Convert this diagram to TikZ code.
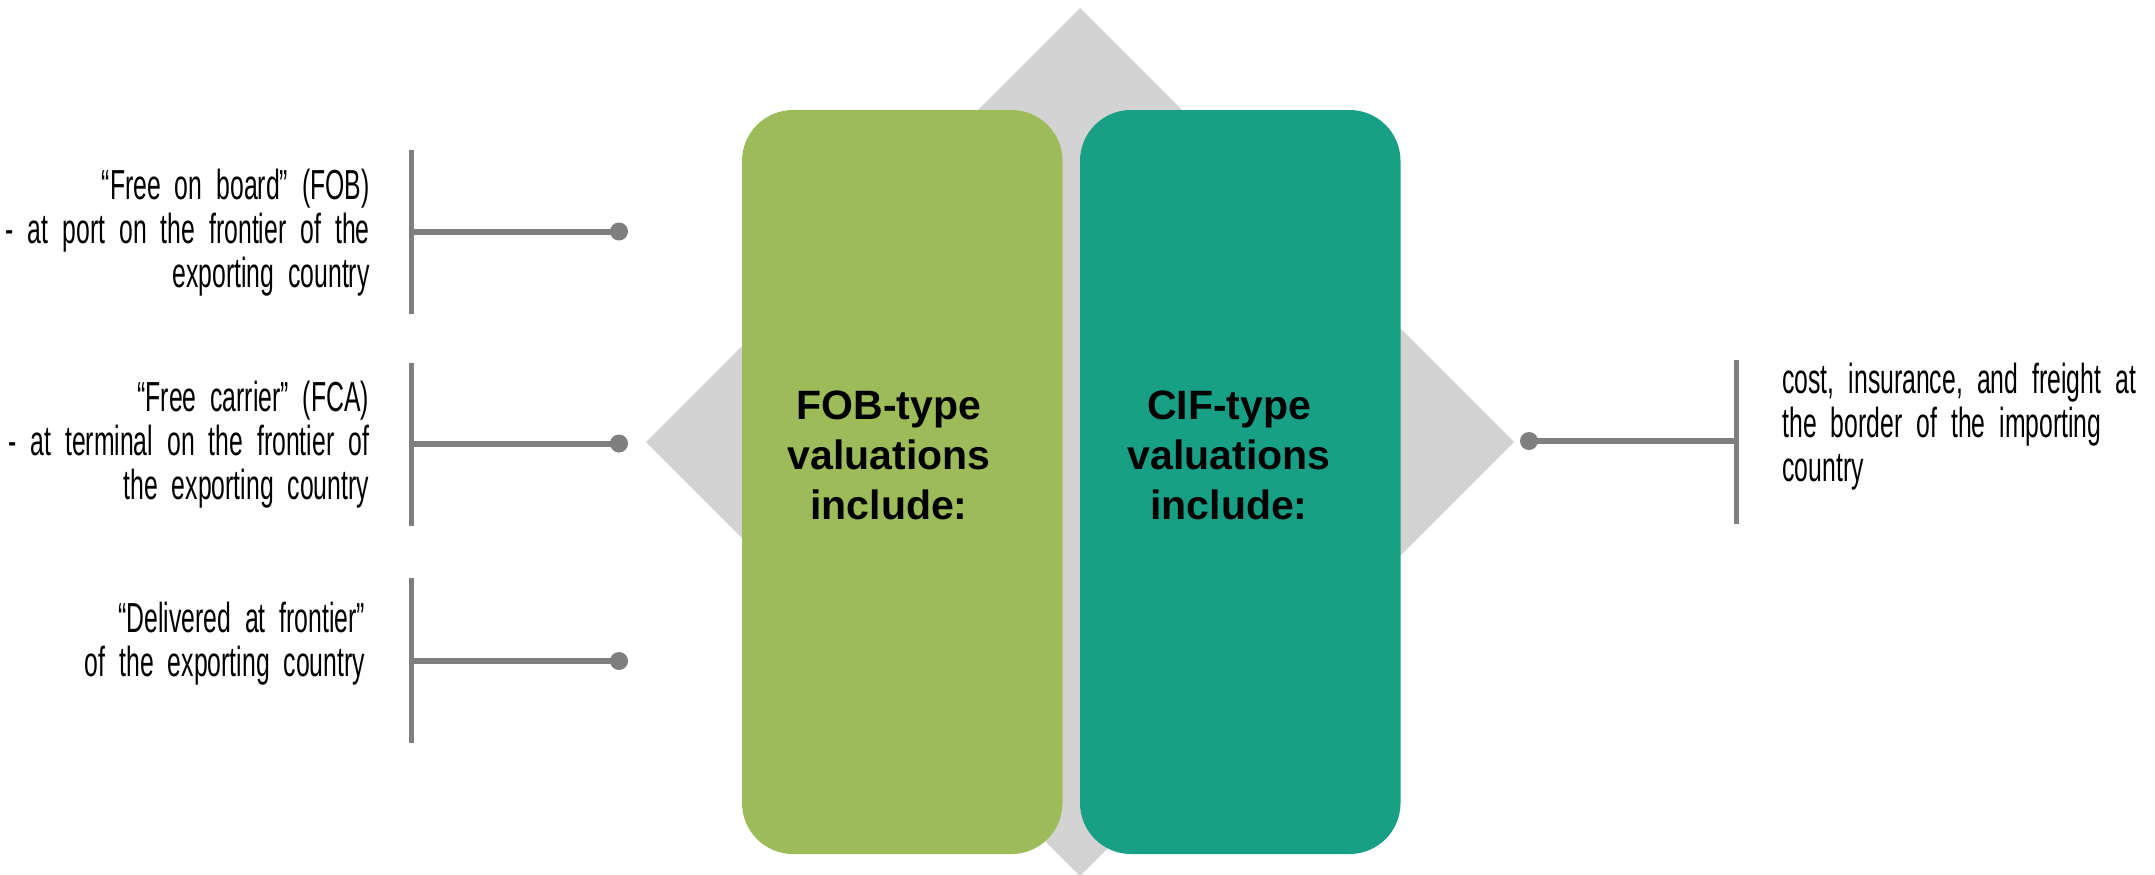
\documentclass[tikz,border=0pt]{standalone}
\usepackage{fontspec}
\setmainfont{Liberation Sans}
\newfontfamily\agency[FakeStretch=0.59]{Liberation Sans}
\newcommand\agencyfont{\agency\fontsize{21}{22}\selectfont\spaceskip=3.6pt plus 1pt minus 0.5pt\relax}
\definecolor{fobgreen}{HTML}{9DBB59}
\definecolor{cifteal}{HTML}{17A086}
\definecolor{diamondgray}{HTML}{D3D3D3}
\definecolor{linegray}{HTML}{7F7F7F}
\begin{document}
\begin{tikzpicture}[x=0.5pt,y=-0.5pt,
  bar/.style={draw=linegray,line width=2.75pt},
  conn/.style={draw=linegray,line width=3pt},
  dot/.style={circle,fill=linegray,inner sep=0pt,minimum size=9pt},
  lbl/.style={font=\agencyfont,inner sep=0pt,text width=230pt,align=right,anchor=base east},
  rlbl/.style={font=\agencyfont,inner sep=0pt,text width=230pt,align=left,anchor=base west},
  boxfill/.style={rounded corners=25.5pt},
  boxtxt/.style={font=\bfseries\fontsize{20.5}{25}\selectfont,inner sep=0pt,text width=150pt,align=center,anchor=base}]
\useasboundingbox (0,0) rectangle (2155,874);
\clip (0,0) rectangle (2155,874);
% background diamond
\fill[diamondgray] (1080,8) -- (1514,442) -- (1080,876) -- (646,442) -- cycle;
% boxes
\fill[fobgreen,boxfill] (742,110) rectangle (1062.5,854);
\fill[cifteal,boxfill] (1080,110) rectangle (1400.5,854);
\node[boxtxt] (fobtxt) at (889,419) {FOB-type\\valuations\\include:};
\node[boxtxt] (ciftxt) at (1229,419) {CIF-type\\valuations\\include:};
% group 1
\coordinate (b1t) at (411.5,150);
\coordinate (b1b) at (411.5,314);
\coordinate (b1m) at (411.5,231.5);
\node[dot] (d1) at (619,231.5) {};
\draw[bar] (b1t) -- (b1b);
\draw[conn] (b1m) -- (d1.center);
\node[lbl] (t1) at (370,199) {“Free on board” (FOB)\\- at port on the frontier of the\\exporting country};
% group 2
\coordinate (b2t) at (411.5,362.5);
\coordinate (b2b) at (411.5,526);
\coordinate (b2m) at (411.5,443.5);
\node[dot] (d2) at (619,443.5) {};
\draw[bar] (b2t) -- (b2b);
\draw[conn] (b2m) -- (d2.center);
\node[lbl] (t2) at (369.5,411) {“Free carrier” (FCA)\\- at terminal on the frontier of\\the exporting country};
% group 3
\coordinate (b3t) at (411.5,578);
\coordinate (b3b) at (411.5,743);
\coordinate (b3m) at (411.5,661);
\node[dot] (d3) at (619,661) {};
\draw[bar] (b3t) -- (b3b);
\draw[conn] (b3m) -- (d3.center);
\node[lbl] (t3) at (365.5,632) {“Delivered at frontier”\\of the exporting country};
% right group
\coordinate (b4t) at (1736.5,359.5);
\coordinate (b4b) at (1736.5,523.5);
\coordinate (b4m) at (1736.5,441);
\node[dot] (d4) at (1529,441) {};
\draw[bar] (b4t) -- (b4b);
\draw[conn] (d4.center) -- (b4m);
\node[rlbl] (t4) at (1782,393) {cost, insurance, and freight at\\the border of the importing\\country};
\end{tikzpicture}
\end{document}
